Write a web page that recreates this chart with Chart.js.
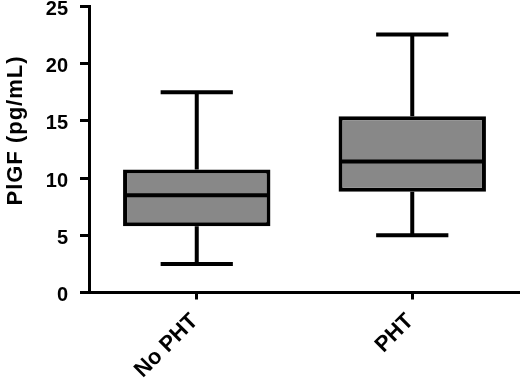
<!DOCTYPE html>
<html><head><meta charset="utf-8">
<script src="https://cdn.jsdelivr.net/npm/chart.js@4/dist/chart.umd.min.js"></script>
<style>html,body{margin:0;padding:0;background:#fff}#wrap{width:520px;height:384px}</style>
</head><body><div id="wrap"><canvas id="c" width="520" height="384"></canvas></div>
<script>
const categories = ["No PHT", "PHT"];
const whiskerMin = [2.5, 5.0];
const q1 = [5.8, 8.8];
const median = [8.5, 11.45];
const q3 = [10.75, 15.4];
const whiskerMax = [17.5, 22.55];
const yTicks = [0, 5, 10, 15, 20, 25];
const yTitle = 'PlGF (pg/mL)';

const FONT = '"Liberation Sans", Arial, sans-serif';

const boxPlugin = {
  id: 'boxParts',
  afterDatasetsDraw(chart) {
    const ctx = chart.ctx, x = chart.scales.x, y = chart.scales.y;
    const meta = chart.getDatasetMeta(0);
    ctx.save();
    ctx.strokeStyle = '#000';
    ctx.lineCap = 'butt';
    categories.forEach((c, i) => {
      const bar = meta.data[i];
      const cx = x.getPixelForValue(i);
      const half = bar.width / 2;
      const capHalf = bar.width * 0.245;
      ctx.lineWidth = 4;
      ctx.beginPath();
      ctx.moveTo(cx - half + 2, y.getPixelForValue(median[i]));
      ctx.lineTo(cx + half - 2, y.getPixelForValue(median[i]));
      ctx.stroke();
      ctx.beginPath();
      ctx.moveTo(cx, y.getPixelForValue(q3[i]));
      ctx.lineTo(cx, y.getPixelForValue(whiskerMax[i]));
      ctx.moveTo(cx, y.getPixelForValue(q1[i]));
      ctx.lineTo(cx, y.getPixelForValue(whiskerMin[i]));
      ctx.stroke();
      ctx.beginPath();
      ctx.moveTo(cx - capHalf, y.getPixelForValue(whiskerMax[i]));
      ctx.lineTo(cx + capHalf, y.getPixelForValue(whiskerMax[i]));
      ctx.moveTo(cx - capHalf, y.getPixelForValue(whiskerMin[i]));
      ctx.lineTo(cx + capHalf, y.getPixelForValue(whiskerMin[i]));
      ctx.stroke();
    });
    ctx.restore();
  }
};

const titlePlugin = {
  id: 'yTitle',
  afterDraw(chart) {
    const ctx = chart.ctx;
    ctx.save();
    ctx.translate(16, 131);
    ctx.rotate(-Math.PI / 2);
    ctx.font = 'bold 22px ' + FONT;
    ctx.fillStyle = '#000';
    ctx.textAlign = 'center';
    ctx.textBaseline = 'middle';
    if ('letterSpacing' in ctx) ctx.letterSpacing = '1px';
    ctx.fillText(yTitle, 0.5, 0);
    ctx.restore();
  }
};

new Chart(document.getElementById('c'), {
  type: 'bar',
  data: {
    labels: categories,
    datasets: [{
      data: categories.map((c, i) => [q1[i], q3[i]]),
      backgroundColor: '#888888',
      borderColor: '#000',
      borderWidth: 4,
      borderSkipped: false,
      categoryPercentage: 1,
      barPercentage: 0.684
    }]
  },
  options: {
    responsive: false,
    animation: false,
    layout: { padding: { top: 6.5, right: 0, left: 0, bottom: 0 } },
    plugins: { legend: { display: false }, tooltip: { enabled: false } },
    scales: {
      x: {
        offset: true,
        afterFit(s) { s.height = 91.5; s.paddingLeft = 0; s.paddingRight = 0; },
        grid: { offset: false, drawOnChartArea: false, drawTicks: true, tickLength: 7, tickWidth: 3, tickColor: '#000' },
        border: { display: true, color: '#000', width: 3 },
        ticks: { color: '#000', font: { family: FONT, size: 22, weight: 'bold' }, maxRotation: 45, minRotation: 45, padding: 9, labelOffset: -2 }
      },
      y: {
        min: 0, max: 25,
        afterBuildTicks(axis) { axis.ticks = yTicks.map(v => ({ value: v })); },
        afterFit(s) { s.width = 89; s.paddingTop = 0; s.paddingBottom = 0; },
        grid: { drawOnChartArea: false, drawTicks: true, tickLength: 9, tickWidth: 3, tickColor: '#000' },
        border: { display: true, color: '#000', width: 3 },
        ticks: { color: '#000', font: { family: FONT, size: 20, weight: 'bold' }, padding: 12, labelOffset: 3 }
      }
    }
  },
  plugins: [boxPlugin, titlePlugin]
});
</script>
</body></html>
